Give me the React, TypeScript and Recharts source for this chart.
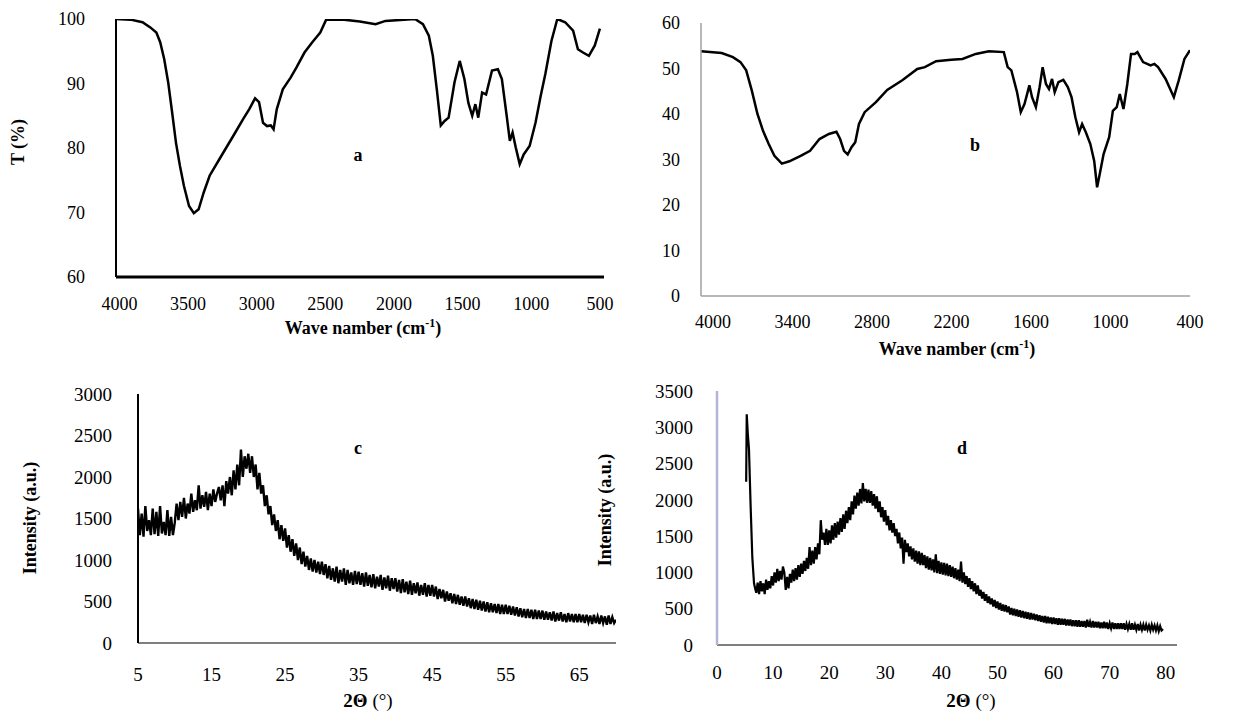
import React from 'react';
import { LineChart, Line, XAxis, YAxis } from 'recharts';

// (a) FTIR transmittance
const A_WAVE = [4025, 3919, 3832, 3775, 3731, 3703, 3674, 3645, 3616, 3588, 3559, 3530, 3493, 3458, 3423, 3386, 3343, 3257, 3170, 3098, 3055, 3012, 2983, 2954, 2925, 2897, 2877, 2854, 2810, 2753, 2710, 2652, 2595, 2537, 2494, 2364, 2249, 2134, 2062, 1847, 1789, 1746, 1717, 1688, 1659, 1631, 1602, 1559, 1521, 1487, 1458, 1430, 1407, 1386, 1358, 1329, 1286, 1243, 1214, 1179, 1156, 1136, 1113, 1084, 1055, 1012, 969, 931, 897, 853, 810, 753, 695, 660, 623, 580, 537, 500];
const A_T = [100, 99.9, 99.5, 98.7, 97.9, 96.4, 93.8, 90.2, 85.5, 80.8, 77.2, 74.1, 71.0, 69.9, 70.5, 73.1, 75.7, 78.8, 81.9, 84.5, 86.0, 87.7, 87.1, 83.9, 83.4, 83.5, 82.9, 86.0, 89.1, 90.9, 92.5, 94.8, 96.4, 97.9, 99.9, 99.9, 99.6, 99.2, 99.7, 100, 99.2, 97.4, 94.3, 89.1, 83.5, 84.2, 84.7, 90.2, 93.5, 90.7, 87.0, 85.0, 86.8, 84.7, 88.6, 88.3, 92.0, 92.2, 90.7, 85.0, 81.1, 82.4, 80.1, 77.5, 79.0, 80.3, 83.9, 88.1, 91.5, 96.6, 100, 99.5, 98.2, 95.3, 94.8, 94.3, 95.9, 98.5];
const A_TICKS = [4000, 3500, 3000, 2500, 2000, 1500, 1000, 500];
const A_YTICKS = [60, 70, 80, 90, 100];

// (b) FTIR
const B_WAVE = [4090, 3934, 3849, 3792, 3749, 3707, 3664, 3622, 3579, 3536, 3480, 3423, 3338, 3267, 3196, 3125, 3068, 3040, 3011, 2983, 2954, 2926, 2898, 2855, 2770, 2685, 2571, 2458, 2401, 2316, 2202, 2117, 2017, 1918, 1805, 1776, 1748, 1705, 1677, 1649, 1612, 1592, 1563, 1535, 1512, 1487, 1464, 1441, 1421, 1393, 1356, 1322, 1294, 1265, 1237, 1214, 1186, 1152, 1123, 1101, 1081, 1052, 1010, 982, 953, 930, 902, 873, 845, 817, 797, 754, 697, 669, 641, 584, 522, 485, 442, 400];
const B_T = [53.8, 53.4, 52.5, 51.4, 49.6, 45.2, 40.0, 36.3, 33.4, 30.8, 29.1, 29.6, 30.8, 31.9, 34.5, 35.6, 36.1, 34.5, 31.9, 31.1, 32.7, 33.8, 37.8, 40.4, 42.6, 45.3, 47.4, 49.9, 50.3, 51.6, 51.9, 52.1, 53.2, 53.8, 53.6, 50.3, 49.6, 44.8, 40.4, 42.2, 46.3, 43.7, 41.5, 45.9, 50.3, 46.6, 45.5, 47.7, 44.8, 47.0, 47.5, 45.9, 43.7, 39.3, 36.0, 37.8, 36.0, 33.4, 29.7, 23.9, 26.8, 31.2, 34.9, 40.7, 41.5, 44.4, 41.1, 46.6, 53.2, 53.2, 53.6, 51.4, 50.7, 51.0, 50.3, 47.7, 43.7, 47.4, 52.1, 54.0];
const B_TICKS = [4000, 3400, 2800, 2200, 1600, 1000, 400];
const B_YTICKS = [0, 10, 20, 30, 40, 50, 60];

// (c) XRD, sampled every 0.25 deg from 5 deg (one row = 5 deg)
const C_START = 5;
const C_STEP = 0.25;
const C_INTENSITY = [
  1620, 1300, 1560, 1280, 1650, 1350, 1480, 1300, 1620, 1310, 1580, 1290, 1650, 1320, 1460, 1300, 1600, 1290, 1520, 1300,
  1450, 1680, 1480, 1700, 1520, 1750, 1500, 1680, 1560, 1800, 1580, 1720, 1600, 1900, 1620, 1780, 1640, 1820, 1600, 1800,
  1650, 1850, 1700, 1800, 1880, 1720, 1900, 1650, 1950, 1800, 2000, 1780, 2080, 1850, 2150, 1900, 2330, 2000, 2250, 2100,
  2280, 2050, 2250, 2000, 2150, 1850, 2050, 1800, 1900, 1650, 1780, 1550, 1650, 1420, 1550, 1350, 1480, 1250, 1420, 1230,
  1380, 1150, 1300, 1100, 1250, 1050, 1200, 1000, 1150, 950, 1100, 920, 1050, 880, 1020, 860, 1000, 850, 980, 830,
  980, 820, 950, 780, 930, 760, 900, 740, 920, 720, 880, 740, 900, 700, 880, 720, 850, 700, 870, 710,
  860, 700, 840, 680, 850, 690, 820, 670, 830, 660, 800, 680, 820, 640, 790, 660, 810, 630, 780, 650,
  780, 620, 760, 600, 770, 610, 740, 590, 750, 580, 720, 600, 730, 570, 700, 580, 720, 560, 700, 570,
  700, 560, 680, 530, 650, 540, 640, 500, 620, 510, 600, 480, 590, 470, 580, 460, 560, 450, 560, 440,
  540, 420, 530, 410, 520, 400, 510, 390, 500, 380, 490, 370, 480, 370, 470, 360, 470, 350, 460, 350,
  460, 350, 450, 340, 440, 330, 430, 320, 420, 310, 410, 300, 410, 300, 400, 290, 400, 290, 390, 290,
  390, 280, 380, 280, 370, 270, 380, 260, 360, 270, 370, 260, 350, 250, 360, 260, 350, 250, 350, 250,
  350, 250, 340, 240, 340, 250, 330, 230, 340, 240, 320, 230, 330, 240, 320, 220, 330, 230, 310, 240,
  280,
];
const C_TICKS = [5, 15, 25, 35, 45, 55, 65];
const C_YTICKS = [0, 500, 1000, 1500, 2000, 2500, 3000];

// (d) XRD: sharp low-angle spike, then every 0.25 deg from 7 deg (one row = 5 deg)
const D_HEAD_ANGLE = [5.2, 5.3, 5.5, 5.7, 6.0, 6.3, 6.6, 6.8];
const D_HEAD_INTENSITY = [2250, 3180, 2900, 2700, 1900, 1200, 850, 780];
const D_START = 7;
const D_STEP = 0.25;
const D_INTENSITY = [
  720, 860, 700, 880, 740, 850, 700, 900, 760, 880, 780, 950, 820, 1000, 860, 1050, 880, 1020, 900, 1080,
  1000, 760, 940, 780, 980, 860, 1040, 880, 1060, 900, 1100, 940, 1120, 980, 1160, 1020, 1200, 1050, 1350, 1100,
  1300, 1120, 1350, 1180, 1400, 1250, 1720, 1450, 1550, 1380, 1600, 1380, 1580, 1400, 1650, 1450, 1680, 1480, 1700, 1520,
  1750, 1560, 1800, 1600, 1850, 1680, 1900, 1720, 1980, 1800, 2060, 1880, 2100, 1920, 2150, 1950, 2230, 1980, 2150, 1960,
  2140, 1960, 2120, 1920, 2080, 1880, 2050, 1830, 1980, 1760, 1900, 1700, 1860, 1650, 1780, 1580, 1720, 1550, 1680, 1500,
  1600, 1400, 1550, 1330, 1480, 1120, 1450, 1280, 1400, 1220, 1360, 1180, 1330, 1150, 1300, 1120, 1290, 1100, 1270, 1100,
  1240, 1060, 1220, 1040, 1200, 1030, 1180, 1000, 1250, 990, 1160, 980, 1140, 970, 1130, 960, 1120, 950, 1100, 940,
  1080, 920, 1060, 900, 1040, 880, 1150, 860, 1000, 840, 950, 800, 920, 770, 880, 740, 850, 700, 820, 680,
  760, 640, 730, 610, 700, 580, 670, 560, 640, 530, 620, 510, 600, 490, 580, 470, 560, 460, 550, 450,
  530, 420, 510, 410, 500, 400, 490, 390, 480, 380, 470, 370, 460, 360, 450, 350, 440, 350, 430, 340,
  420, 330, 410, 320, 400, 310, 400, 300, 390, 300, 380, 290, 380, 290, 370, 280, 370, 280, 360, 280,
  360, 270, 350, 270, 350, 260, 340, 260, 340, 250, 340, 250, 330, 250, 330, 240, 350, 250, 320, 240,
  330, 240, 320, 240, 320, 230, 310, 230, 320, 230, 310, 220, 300, 230, 310, 220, 300, 220, 300, 220,
  300, 220, 300, 210, 290, 220, 290, 210, 300, 210, 280, 210, 290, 200, 280, 210, 280, 200, 280, 210,
  270, 200, 280, 210, 270, 200, 270, 190, 260, 200, 220,
];
const D_TICKS = [0, 10, 20, 30, 40, 50, 60, 70, 80];
const D_YTICKS = [0, 500, 1000, 1500, 2000, 2500, 3000, 3500];

const W = 1238;
const H = 713;
const FONT = '"Liberation Serif", "Times New Roman", serif';

const aData = A_WAVE.map((x, i) => ({ x, y: A_T[i] }));
const bData = B_WAVE.map((x, i) => ({ x, y: B_T[i] }));
const cData = C_INTENSITY.map((y, i) => ({ x: C_START + i * C_STEP, y }));
const dData = [
  ...D_HEAD_ANGLE.map((x, i) => ({ x, y: D_HEAD_INTENSITY[i] })),
  ...D_INTENSITY.map((y, i) => ({ x: D_START + i * D_STEP, y })),
];

// tick label drawn at the spot recharts computes for it
const AxisTick = (props: any) => {
  const { x, y, payload, anchor, shift, fs } = props;
  return (
    <text
      x={x}
      y={y}
      dy={shift}
      textAnchor={anchor}
      fontFamily={FONT}
      fontSize={fs}
      fill="#000"
      style={{ fontFamily: FONT, fontSize: fs }}
    >
      {payload.value}
    </text>
  );
};

interface PanelProps {
  data: { x: number; y: number }[];
  rect: [number, number, number, number]; // plot area: left, top, right, bottom
  xDomain: [number, number];
  xTicks: number[];
  reversed?: boolean;
  yDomain: [number, number];
  yTicks: number[];
  xGap: number;
  yGap: number;
  fontSize: number;
  xStroke: string;
  xStrokeWidth: number;
  yStroke: string;
  yStrokeWidth: number;
  lineWidth: number;
}

const YW = 60;
const XH = 40;

const Panel: React.FC<PanelProps> = ({
  data, rect, xDomain, xTicks, reversed, yDomain, yTicks,
  xGap, yGap, fontSize, xStroke, xStrokeWidth, yStroke, yStrokeWidth, lineWidth,
}) => {
  const [x0, y0, x1, y1] = rect;
  return (
    <div style={{ position: 'absolute', left: 0, top: 0, fontFamily: FONT }}>
      <LineChart
        width={W}
        height={H}
        data={data}
        margin={{ top: y0, left: x0 - YW, right: W - x1, bottom: H - y1 - XH }}
      >
        <XAxis
          type="number"
          dataKey="x"
          domain={xDomain}
          ticks={xTicks}
          reversed={reversed}
          allowDataOverflow
          interval={0}
          height={XH}
          tickLine={false}
          tickSize={0}
          tickMargin={xGap}
          axisLine={{ stroke: xStroke, strokeWidth: xStrokeWidth }}
          tick={<AxisTick anchor="middle" shift="0.71em" fs={fontSize} />}
        />
        <YAxis
          type="number"
          domain={yDomain}
          ticks={yTicks}
          allowDataOverflow
          interval={0}
          width={YW}
          tickLine={false}
          tickSize={0}
          tickMargin={yGap}
          axisLine={{ stroke: yStroke, strokeWidth: yStrokeWidth }}
          tick={<AxisTick anchor="end" shift="0.35em" fs={fontSize} />}
        />
        <Line
          type="linear"
          dataKey="y"
          stroke="#000"
          strokeWidth={lineWidth}
          dot={false}
          isAnimationActive={false}
        />
      </LineChart>
    </div>
  );
};

const titleCss = { fontFamily: FONT, fontWeight: 'bold' as const, fontSize: 18, fill: '#000' };

const WaveTitle = ({ x, y }: { x: number; y: number }) => (
  <text x={x} y={y} textAnchor="middle" style={titleCss}>
    Wave namber (cm<tspan dy={-7} style={{ fontSize: 12 }}>-1</tspan><tspan dy={7}>)</tspan>
  </text>
);

const ThetaTitle = ({ x, y }: { x: number; y: number }) => (
  <text x={x} y={y} textAnchor="middle" style={{ fontFamily: FONT, fontSize: 19, fill: '#000' }}>
    <tspan style={{ fontWeight: 'bold' }}>2Θ</tspan> (°)
  </text>
);

export default function App() {
  return (
    <div style={{ position: 'absolute', left: 0, top: 0, width: W, height: H, background: '#fff', overflow: 'hidden', fontFamily: FONT }}>
      <Panel
        data={aData}
        rect={[116, 19, 604, 277]}
        xDomain={[470, 4025]}
        xTicks={A_TICKS}
        reversed
        yDomain={[60, 100]}
        yTicks={A_YTICKS}
        xGap={20}
        yGap={31}
        fontSize={18}
        xStroke="#000"
        xStrokeWidth={3}
        yStroke="#000"
        yStrokeWidth={2}
        lineWidth={2.5}
      />
      <Panel
        data={bData}
        rect={[701, 23, 1190, 296]}
        xDomain={[400, 4090]}
        xTicks={B_TICKS}
        reversed
        yDomain={[0, 60]}
        yTicks={B_YTICKS}
        xGap={19}
        yGap={21}
        fontSize={18}
        xStroke="#a0a0a0"
        xStrokeWidth={1.5}
        yStroke="#a0a0a0"
        yStrokeWidth={1.5}
        lineWidth={2.5}
      />
      <Panel
        data={cData}
        rect={[138, 394, 616, 643]}
        xDomain={[5, 70]}
        xTicks={C_TICKS}
        yDomain={[0, 3000]}
        yTicks={C_YTICKS}
        xGap={25}
        yGap={26}
        fontSize={19}
        xStroke="#555"
        xStrokeWidth={1.5}
        yStroke="#000"
        yStrokeWidth={2}
        lineWidth={2.4}
      />
      <Panel
        data={dData}
        rect={[717, 391, 1177, 645]}
        xDomain={[0, 82]}
        xTicks={D_TICKS}
        yDomain={[0, 3500]}
        yTicks={D_YTICKS}
        xGap={21}
        yGap={24}
        fontSize={19}
        xStroke="#555"
        xStrokeWidth={1.5}
        yStroke="#b4b4d6"
        yStrokeWidth={2.5}
        lineWidth={2.2}
      />
      <svg width={W} height={H} style={{ position: 'absolute', left: 0, top: 0, pointerEvents: 'none' }}>
        <text style={titleCss} x={18} y={142} textAnchor="middle" dominantBaseline="central" transform="rotate(-90 18 142)">T (%)</text>
        <text style={titleCss} x={30} y={518} textAnchor="middle" dominantBaseline="central" transform="rotate(-90 30 518)">Intensity (a.u.)</text>
        <text style={titleCss} x={605} y={510} textAnchor="middle" dominantBaseline="central" transform="rotate(-90 605 510)">Intensity (a.u.)</text>
        <WaveTitle x={363} y={334} />
        <WaveTitle x={957} y={355} />
        <ThetaTitle x={368} y={707} />
        <ThetaTitle x={971} y={707} />
        <text style={titleCss} x={358} y={161} textAnchor="middle">a</text>
        <text style={titleCss} x={975} y={151} textAnchor="middle">b</text>
        <text style={titleCss} x={358} y={454} textAnchor="middle">c</text>
        <text style={titleCss} x={962} y={454} textAnchor="middle">d</text>
      </svg>
    </div>
  );
}
